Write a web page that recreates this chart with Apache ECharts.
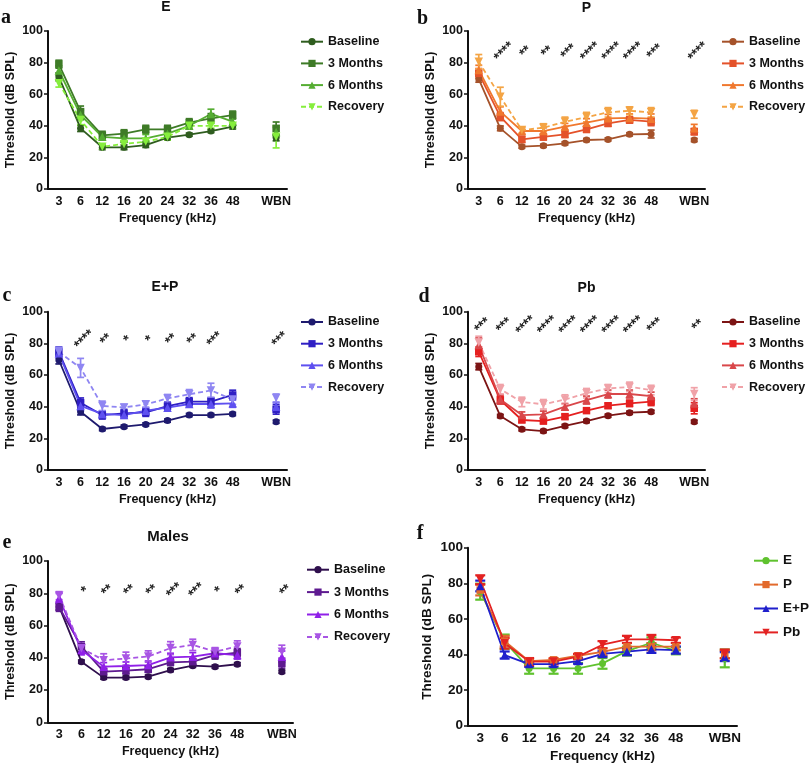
<!DOCTYPE html>
<html><head><meta charset="utf-8">
<script src="https://cdn.jsdelivr.net/npm/echarts@6/dist/echarts.min.js"></script>
<style>html,body{margin:0;padding:0;background:#fff}#c{width:811px;height:767px}</style>
</head><body><div id="c"></div>
<script>
// ---------- shared ----------
const categories = ['3','6','12','16','20','24','32','36','48','','WBN'];
const groupNames = ['Baseline','3 Months','6 Months','Recovery'];
const compareNames = ['E','P','E+P','Pb'];
const yTicks = [0,20,40,60,80,100];
const xAxisTitle = 'Frequency (kHz)';
const yAxisTitle = 'Threshold (dB SPL)';
const panelTitles = ['E','P','E+P','Pb','Males',''];
const panelLetters = ['a','b','c','d','e','f'];

// ---------- panel a : E ----------
const aBaseline = [71,38.4,26.4,26.4,27.8,32.5,34.4,36.7,39.5,null,32.5];
const aBaselineErr = [2.5,2,1.5,1.5,1.5,1.5,1,1,1.5,null,2];
const a3Months = [79,49,34,35,37.8,37.8,42,44.7,46.8,null,38.4];
const a3MonthsErr = [2.5,3.5,2.5,2.5,2.5,2.5,2.5,3,2.5,null,4];
const a6Months = [75,46.8,33,32,32,35,40,47.5,42.6,null,36];
const a6MonthsErr = [3,3,2,2.5,2.5,2,2,3,2,null,3];
const aRecovery = [67,43.7,26.8,28.5,30,33,40,40,40,null,33];
const aRecoveryErr = [2.5,3,1.5,2,2,2,1.5,1.5,1.5,null,7];

// ---------- panel b : P ----------
const bBaseline = [69.6,38.4,26.8,27.4,28.9,31,31.4,34.6,34.8,null,31];
const bBaselineErr = [2,1.5,1,1,1,1,1,1,2.5,null,1];
const b3Months = [73.2,45.8,31.4,33,34.6,37.8,41.6,43.7,42.6,null,36.3];
const b3MonthsErr = [3,2.5,2,2,2,2,2,2,2.5,null,2];
const b6Months = [75.3,49,36.7,36.7,39.5,42,44.7,45,44.5,null,38.4];
const b6MonthsErr = [3,3,2,2,2,2.5,2.5,2.5,3,null,2.5];
const bRecovery = [80.6,58.4,37.3,38.8,42.5,45.5,48.5,49.5,48.5,null,47.3];
const bRecoveryErr = [4.5,6,2,2.5,3,3,3,2.5,3,null,2.5];
const bStars = ['','****','**','**','***','****','****','****','***','','****'];

// ---------- panel c : E+P ----------
const cBaseline = [69.5,36.8,25.9,27.4,28.8,31.2,34.7,34.7,35.4,null,30.5];
const cBaselineErr = [2.5,2,1,1,1,1,1,1,1,null,1];
const c3Months = [74.7,42.5,34.7,35.8,36.4,40.4,43.2,43.2,47.4,null,38.3];
const c3MonthsErr = [3,3,2.5,2.5,2.5,2.5,2.5,2.5,3,null,3];
const c6Months = [73.7,40.5,35.4,34.7,37.5,39.4,41.7,41.7,42.1,null,40];
const c6MonthsErr = [3,3,2,2,2,2,2,2.5,2.5,null,2.5];
const cRecovery = [74.5,64.5,40.5,39.5,41.5,45.2,47.8,50.3,44.5,null,45.5];
const cRecoveryErr = [3,6,3,2,2,2.5,3,4.5,3,null,2.5];
const cStars = ['','****','**','*','*','**','**','***','','','***'];

// ---------- panel d : Pb ----------
const dBaseline = [65.3,34.1,25.7,24.6,27.8,30.9,34.3,36.2,36.8,null,30.5];
const dBaselineErr = [2,1,1,1,1,1,1,1,1,null,1];
const d3Months = [74.7,44.2,31.6,30.9,33.7,37.5,40.6,42.1,43.2,null,39];
const d3MonthsErr = [3,2.5,1.5,1.5,1.5,1.5,1.5,2,2.5,null,3.5];
const d6Months = [78.9,44.6,34.7,35.2,40,44.2,48,48,46.7,null,42];
const d6MonthsErr = [4.5,3,2,2,2,2.5,2.5,2.5,2.5,null,3];
const dRecovery = [80.5,51,43,41.5,44.5,48.5,51.5,52.5,50.5,null,48];
const dRecoveryErr = [4,3,3,3,3,3,2.5,3,3,null,4];
const dStars = ['***','***','****','****','****','****','****','****','***','','**'];

// ---------- panel e : Males ----------
const eBaseline = [71.7,37.6,27.7,27.7,28.3,32.4,35.1,34.5,36,null,31.4];
const eBaselineErr = [2,1,1,1,1,1,1,1,1,null,1];
const e3Months = [71.3,46.9,31.4,32,32.9,37.2,37.6,41.7,43.2,null,36.6];
const e3MonthsErr = [2.5,3,2,2,2,2,2,2.5,2.5,null,3];
const e6Months = [76.9,44.8,34.5,34.9,35.5,40.3,40.7,42.8,41.7,null,40.7];
const e6MonthsErr = [3,3,2.5,2.5,2.5,2.5,2.5,2.5,2.5,null,3.5];
const eRecovery = [78.5,45.9,38.5,39.5,40.8,46,48,43.8,47,null,43.8];
const eRecoveryErr = [2.5,3,4,4,3.5,4,3.5,2.5,3.5,null,4];
const eStars = ['','*','**','**','**','***','***','*','**','','**'];

// ---------- panel f : comparison ----------
const fE = [75.3,47.2,32.2,32.2,32.2,35,41.9,46.6,42.1,null,37.8];
const fEErr = [4.5,4,3,3,3,3,2.5,3,2,null,5];
const fP = [76.2,47.5,36.3,37,39.3,41.5,44.4,44.4,44.4,null,40];
const fPErr = [3,3,1,1,1,2,2,2,2,null,2];
const fEP = [78.5,39.7,34.6,34.6,36.3,40.3,41.6,42.9,42.5,null,38.8];
const fEPErr = [3,2,1.5,1.5,1.5,1.5,2,2,2,null,2.5];
const fPb = [82,46.3,36,36,38.8,45.5,48.5,48.5,48,null,40.3];
const fPbErr = [2.5,3,2,1.5,1.5,2,2,2.5,1.5,null,2.5];

// ---------- layout / style (not data) ----------
const FONT = '"Liberation Sans", Arial, sans-serif';
const panels = [
  {key:'a', grid:{left:48, top:31, width:239, height:158}, legend:{left:300, top:34.7, gap:7.7, iw:22, fs:12.5},
   names:groupNames, data:[aBaseline,a3Months,a6Months,aRecovery], err:[aBaselineErr,a3MonthsErr,a6MonthsErr,aRecoveryErr],
   colors:['#2f5d1f','#3e7b27','#55ad32','#86ee3c'], stars:null, starY:0, fs:12.5, cap:7},
  {key:'b', grid:{left:468, top:31, width:237, height:158}, legend:{left:721, top:34.7, gap:7.7, iw:22, fs:12.5},
   names:groupNames, data:[bBaseline,b3Months,b6Months,bRecovery], err:[bBaselineErr,b3MonthsErr,b6MonthsErr,bRecoveryErr],
   colors:['#a5522a','#e4522a','#f0782e','#f4a444'], stars:bStars, starY:88, fs:12.5, cap:7},
  {key:'c', grid:{left:48, top:311.7, width:239, height:158.3}, legend:{left:300, top:315, gap:7.7, iw:22, fs:12.5},
   names:groupNames, data:[cBaseline,c3Months,c6Months,cRecovery], err:[cBaselineErr,c3MonthsErr,c6MonthsErr,cRecoveryErr],
   colors:['#1e1a6e','#2f1fc4','#5e50f0','#8f86f2'], stars:cStars, starY:83.5, fs:12.5, cap:7},
  {key:'d', grid:{left:468, top:311.7, width:237, height:158.3}, legend:{left:721, top:315, gap:7.7, iw:22, fs:12.5},
   names:groupNames, data:[dBaseline,d3Months,d6Months,dRecovery], err:[dBaselineErr,d3MonthsErr,d6MonthsErr,dRecoveryErr],
   colors:['#7c1414','#e52020','#d9474a','#f0a2a8'], stars:dStars, starY:92.5, fs:12.5, cap:7},
  {key:'e', grid:{left:48, top:561, width:245, height:161.3}, legend:{left:306, top:562.7, gap:8.4, iw:22, fs:12.5},
   names:groupNames, data:[eBaseline,e3Months,e6Months,eRecovery], err:[eBaselineErr,e3MonthsErr,e6MonthsErr,eRecoveryErr],
   colors:['#2f0f4d','#5e1a90','#9020e8','#a855e4'], stars:eStars, starY:82.8, fs:12.5, cap:7},
  {key:'f', grid:{left:468, top:547.7, width:269, height:178}, legend:{left:753, top:553.7, gap:9.9, iw:24, fs:13.5},
   names:compareNames, data:[fE,fP,fEP,fPb], err:[fEErr,fPErr,fEPErr,fPbErr],
   colors:['#5fc22e','#e26a2c','#1f1fcc','#e32222'], stars:null, starY:0, fs:13.5, cap:10, allSolid:true}
];
const symbols = [['circle',7,0],['rect',7.5,0],['triangle',8.5,0],['triangle',8.5,180]];

const grids=[], xAxes=[], yAxes=[], legends=[], series=[];
panels.forEach((p, pi) => {
  grids.push(Object.assign({containLabel:false}, p.grid));
  xAxes.push({type:'category', gridIndex:pi, data:categories, boundaryGap:true,
    name:xAxisTitle, nameLocation:'middle', nameGap: pi===5?24:23,
    nameTextStyle:{fontFamily:FONT, fontWeight:'bold', fontSize:p.fs, color:'#111'},
    axisLine:{lineStyle:{color:'#111', width:2}},
    axisTick:{alignWithLabel:true, length:4, interval:(i)=>i!==9, lineStyle:{width:1.5,color:'#111'}},
    axisLabel:{interval:0, margin:6, fontFamily:FONT, fontWeight:'bold', fontSize:p.fs, color:'#111'},
    splitLine:{show:false}});
  yAxes.push({type:'value', gridIndex:pi, min:yTicks[0], max:yTicks[yTicks.length-1], interval:20,
    name:yAxisTitle, nameLocation:'middle', nameGap: pi===5?34:31, nameRotate:90,
    nameTextStyle:{fontFamily:FONT, fontWeight:'bold', fontSize:p.fs, color:'#111'},
    axisLine:{show:true, onZero:false, lineStyle:{color:'#111', width:2}},
    axisTick:{show:true, length:4, lineStyle:{width:1.5,color:'#111'}},
    axisLabel:{margin:5, fontFamily:FONT, fontWeight:'bold', fontSize:p.fs, color:'#111'},
    splitLine:{show:false}});
  const legNames = p.names.map(n => p.key + '_' + n);
  legends.push({data:legNames, orient:'vertical', left:p.legend.left, top:p.legend.top,
    itemWidth:p.legend.iw, itemHeight:9, itemGap:p.legend.gap, padding:0,
    formatter:(n)=>n.slice(n.indexOf('_')+1), selectedMode:false,
    textStyle:{fontFamily:FONT, fontWeight:'bold', fontSize:p.legend.fs, lineHeight:14, color:'#111'}});
  p.names.forEach((n, si) => {
    const col = p.colors[si];
    const dashed = (!p.allSolid && si===3);
    const sy = symbols[si];
    const eb = [];
    p.data[si].forEach((v,i)=>{ if(v!=null) eb.push([i, v - p.err[si][i], v + p.err[si][i]]); });
    const cap = p.cap;
    series.push({type:'custom', xAxisIndex:pi, yAxisIndex:pi, data:eb, silent:true, z:2,
      encode:{x:0, y:[1,2]},
      renderItem:(params, api)=>{
        const x = api.value(0);
        const lo = api.coord([x, api.value(1)]), hi = api.coord([x, api.value(2)]);
        const st = {stroke:col, lineWidth: pi===5?2.2:1.7};
        return {type:'group', children:[
          {type:'line', shape:{x1:lo[0],y1:lo[1],x2:hi[0],y2:hi[1]}, style:st},
          {type:'line', shape:{x1:lo[0]-cap/2,y1:lo[1],x2:lo[0]+cap/2,y2:lo[1]}, style:st},
          {type:'line', shape:{x1:hi[0]-cap/2,y1:hi[1],x2:hi[0]+cap/2,y2:hi[1]}, style:st}
        ]};
      }});
    series.push({type:'line', name:p.key+'_'+n, xAxisIndex:pi, yAxisIndex:pi, data:p.data[si],
      symbol:sy[0], symbolSize:sy[1], symbolRotate:sy[2], showAllSymbol:true, connectNulls:false,
      lineStyle:{color:col, width:1.8, type: dashed?[5,3]:'solid'}, itemStyle:{color:col},
      z:3, emphasis:{disabled:true}});
  });
  if (p.stars) {
    const sd = [];
    p.stars.forEach((s,i)=>{ if(s) sd.push([i, p.starY, s]); });
    series.push({type:'custom', xAxisIndex:pi, yAxisIndex:pi, data:sd, silent:true, z:4,
      encode:{x:0, y:1},
      renderItem:(params, api)=>{
        const c = api.coord([api.value(0), api.value(1)]);
        const txt = sd[params.dataIndex][2];
        return {type:'text', x:c[0]+4, y:c[1]+2, rotation:Math.PI/4,
          style:{text:txt, font:'bold 14px ' + FONT, fill:'#222', align:'center', verticalAlign:'middle'}};
      }});
  }
});

const titleSpots = [[166,7.5],[586.5,8],[165,287.5],[586.5,288.5],[168,537]];
const letterSpots = [[6,18],[422.5,18.4],[7,296],[424,296.4],[7,543],[420,533.4]];
const graphics = [];
titleSpots.forEach((t,i)=>graphics.push({type:'text', x:t[0], y:t[1],
  style:{text:panelTitles[i], font:'bold '+(i===4?15:14)+'px '+FONT, fill:'#111', align:'center', verticalAlign:'middle'}}));
letterSpots.forEach((t,i)=>graphics.push({type:'text', x:t[0], y:t[1],
  style:{text:panelLetters[i], font:'bold 20px "Liberation Serif", "Times New Roman", serif', fill:'#111', align:'center', verticalAlign:'middle'}}));

const chart = echarts.init(document.getElementById('c'), null, {renderer:'canvas'});
chart.setOption({animation:false, backgroundColor:'#fff', grid:grids, xAxis:xAxes, yAxis:yAxes,
  legend:legends, series:series, graphic:graphics, tooltip:{show:false}});
</script>
</body></html>
